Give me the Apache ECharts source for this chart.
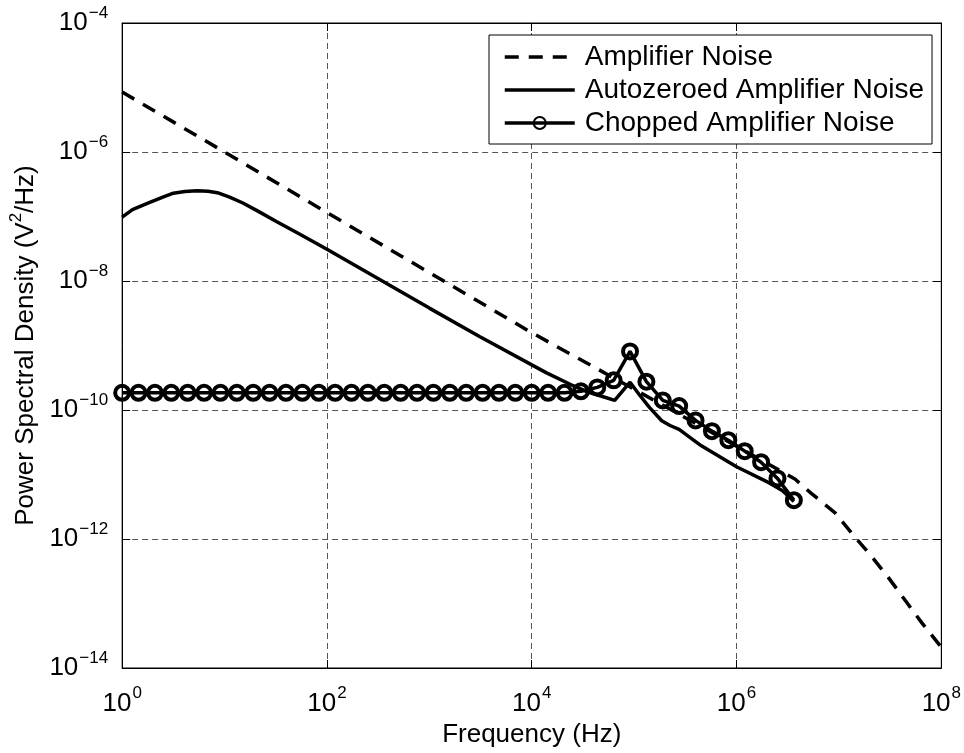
<!DOCTYPE html>
<html>
<head>
<meta charset="utf-8">
<script src="https://cdn.jsdelivr.net/npm/echarts@6/dist/echarts.min.js"></script>
<style>
  html, body { margin: 0; padding: 0; background: #fff; }
  #chart { width: 964px; height: 753px; }
</style>
</head>
<body>
<div id="chart"></div>
<script>
// values (Hz, V^2/Hz)
const ampFreq = [1, 10, 100, 1000, 1e4, 38900, 1e5, 1e6, 3.72e6, 5.37e6, 9.12e6, 1.35e7, 2.04e7, 3.02e7, 4.47e7, 6.46e7, 1e8]
const ampPsd = [8.5e-6, 1.0e-6, 1.15e-7, 1.35e-8, 1.58e-9, 4.8e-10, 2.1e-10, 2.75e-11, 8.5e-12, 5.1e-12, 2.57e-12, 1.2e-12, 5.6e-13, 2.57e-13, 1.1e-13, 5.0e-14, 2.1e-14]

const azFreq = [1, 1.26, 1.86, 2.5, 3.16, 4.1, 5.37, 6.9, 8.51, 11.2, 15.1, 21.4, 32.4, 55, 100, 1000, 3090, 13800, 25100, 35500, 49000, 64600, 91200, 112000, 141000, 186000, 224000, 275000, 372000, 437000, 1e6, 2.09e6, 2.82e6, 3.63e6]
const azPsd = [9.8e-8, 1.28e-7, 1.65e-7, 2.0e-7, 2.3e-7, 2.45e-7, 2.51e-7, 2.47e-7, 2.34e-7, 2.0e-7, 1.62e-7, 1.2e-7, 8.3e-8, 5.25e-8, 3.1e-8, 3.8e-9, 1.38e-9, 3.8e-10, 2.4e-10, 1.9e-10, 1.62e-10, 1.41e-10, 2.7e-10, 1.74e-10, 1.1e-10, 6.8e-11, 5.75e-11, 5.0e-11, 3.5e-11, 2.9e-11, 1.32e-11, 7.4e-12, 5.6e-12, 3.8e-12]

const chopFreq = [1, 1.445, 2.089, 3.02, 4.365, 6.31, 9.12, 13.18, 19.05, 27.54, 39.81, 57.54, 83.18, 120.2, 173.8, 251.2, 363.1, 524.8, 758.6, 1096, 1585, 2291, 3311, 4786, 6918, 10000, 14454, 20893, 30200, 43652, 63096, 91201, 131826, 190546, 275423, 398107, 575440, 831764, 1202264, 1737801, 2511886, 3630781]
const chopPsd = [1.85e-10, 1.85e-10, 1.85e-10, 1.85e-10, 1.85e-10, 1.85e-10, 1.85e-10, 1.85e-10, 1.85e-10, 1.85e-10, 1.85e-10, 1.85e-10, 1.85e-10, 1.85e-10, 1.85e-10, 1.85e-10, 1.85e-10, 1.85e-10, 1.85e-10, 1.85e-10, 1.85e-10, 1.85e-10, 1.85e-10, 1.85e-10, 1.85e-10, 1.85e-10, 1.85e-10, 1.85e-10, 1.95e-10, 2.24e-10, 2.88e-10, 8.1e-10, 2.75e-10, 1.41e-10, 1.15e-10, 6.9e-11, 4.7e-11, 3.4e-11, 2.3e-11, 1.55e-11, 8.7e-12, 4.0e-12]

const seriesNames = ['Amplifier Noise', 'Autozeroed Amplifier Noise', 'Chopped Amplifier Noise']

const font = 'Liberation Sans, Arial, Helvetica, sans-serif'

function pairs(xs, ys) {
  return xs.map((x, i) => [x, ys[i]])
}

// exponent label like 10^-4
function powLabel(v) {
  const e = Math.round(Math.log10(v))
  const s = e < 0 ? '−' + (-e) : String(e)
  return '{b|10}{s|' + s + '}'
}

const rich = {
  b: { fontSize: 26, fontFamily: font, color: '#000' },
  s: { fontSize: 17, fontFamily: font, color: '#000', padding: [0, 0, 20, 1] }
}

const gridDash = { show: true, lineStyle: { color: '#555', type: [6, 4], width: 1 } }
const noFill = 'rgba(0,0,0,0)'

const chart = echarts.init(document.getElementById('chart'))

const option = {
  backgroundColor: '#fff',
  animation: false,
  grid: { left: 122, right: 22, top: 23, bottom: 85, show: true, borderColor: '#000', borderWidth: 1 },
  legend: {
    orient: 'vertical',
    left: 489,
    top: 35,
    padding: [8, 8, 7, 14],
    itemGap: 5,
    itemWidth: 70,
    itemHeight: 15,
    borderColor: '#000',
    borderWidth: 1,
    backgroundColor: '#fff',
    lineStyle: { width: 3.5 },
    textStyle: { fontSize: 28, fontFamily: font, color: '#000', padding: [0, 0, 0, 5] },
    data: seriesNames
  },
  xAxis: [
    {
      type: 'log',
      logBase: 10,
      min: 1,
      max: 1e8,
      interval: 2,
      name: 'Frequency (Hz)',
      nameLocation: 'middle',
      nameGap: 53,
      nameTextStyle: { fontSize: 26, fontFamily: font, color: '#000' },
      axisLine: { lineStyle: { color: '#000', width: 1 } },
      axisTick: { inside: true, length: 8, lineStyle: { color: '#000' } },
      axisLabel: { margin: 17, formatter: powLabel, rich: rich },
      splitLine: gridDash,
      minorTick: { show: false },
      minorSplitLine: { show: false }
    },
    {
      type: 'log',
      logBase: 10,
      min: 1,
      max: 1e8,
      interval: 2,
      position: 'top',
      axisLine: { lineStyle: { color: '#000' } },
      axisTick: { inside: true, length: 8, lineStyle: { color: '#000' } },
      axisLabel: { show: false },
      splitLine: { show: false }
    }
  ],
  yAxis: [
    {
      type: 'log',
      logBase: 10,
      min: 1e-14,
      max: 1e-4,
      interval: 2,
      name: 'Power Spectral Density (V{s|2}/Hz)',
      nameLocation: 'middle',
      nameGap: 73,
      nameTextStyle: {
        fontSize: 26, fontFamily: font, color: '#000',
        rich: { s: { fontSize: 17, fontFamily: font, color: '#000', padding: [0, 0, 18, 0] } }
      },
      axisLine: { lineStyle: { color: '#000', width: 1 } },
      axisTick: { inside: true, length: 8, lineStyle: { color: '#000' } },
      axisLabel: { margin: 14, formatter: powLabel, rich: rich },
      splitLine: gridDash,
      minorTick: { show: false },
      minorSplitLine: { show: false }
    },
    {
      type: 'log',
      logBase: 10,
      min: 1e-14,
      max: 1e-4,
      interval: 2,
      position: 'right',
      axisLine: { lineStyle: { color: '#000' } },
      axisTick: { inside: true, length: 8, lineStyle: { color: '#000' } },
      axisLabel: { show: false },
      splitLine: { show: false }
    }
  ],
  series: [
    {
      name: seriesNames[0],
      type: 'line',
      data: pairs(ampFreq, ampPsd),
      showSymbol: false,
      symbol: 'none',
      lineStyle: { color: '#000', width: 3.5, type: [14, 10] },
      itemStyle: { color: noFill, borderWidth: 0 }
    },
    {
      name: seriesNames[1],
      type: 'line',
      data: pairs(azFreq, azPsd),
      showSymbol: false,
      symbol: 'none',
      lineStyle: { color: '#000', width: 3.5 },
      itemStyle: { color: noFill, borderWidth: 0 }
    },
    {
      name: seriesNames[2],
      type: 'line',
      data: pairs(chopFreq, chopPsd),
      symbol: 'circle',
      symbolSize: 14,
      lineStyle: { color: '#000', width: 3.5 },
      itemStyle: { color: noFill, borderColor: '#000', borderWidth: 4 },
      z: 3
    }
  ]
}

chart.setOption(option)
</script>
</body>
</html>
